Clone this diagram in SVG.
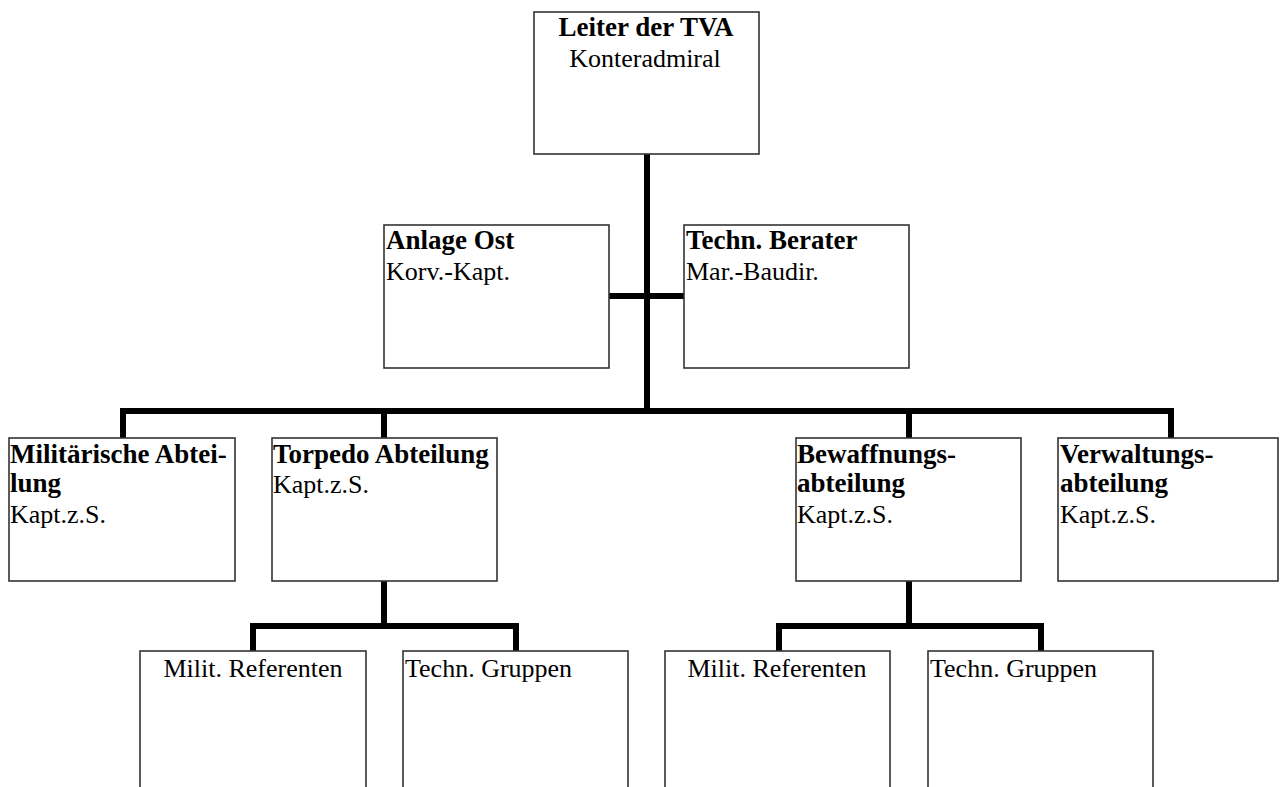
<svg xmlns="http://www.w3.org/2000/svg" width="1280" height="787" viewBox="0 0 1280 787">
<style>
.box{fill:#fff;stroke:#333;stroke-width:1.6}
.t{font-family:"Liberation Serif","Times New Roman",serif;font-size:26px;fill:#000}
.b{font-weight:bold;font-size:27px}
.c{text-anchor:middle}
.ln{fill:none;stroke:#000;stroke-width:6;stroke-linejoin:miter;stroke-linecap:butt}
</style>
<rect width="1280" height="787" fill="#fff"/>
<g id="connectors">
<path class="ln" d="M647,154 V411"/>
<path class="ln" d="M609,296 H684"/>
<path class="ln" d="M123,438 V411 H1171 V438"/>
<path class="ln" d="M384,411 V438"/>
<path class="ln" d="M909,411 V438"/>
<path class="ln" d="M384,581 V626"/>
<path class="ln" d="M253,651 V626 H516 V651"/>
<path class="ln" d="M909,581 V626"/>
<path class="ln" d="M779,651 V626 H1041 V651"/>
</g>
<g id="leiter">
<rect class="box" x="534" y="12" width="225" height="142"/>
<text class="t b c" x="646" y="36">Leiter der TVA</text>
<text class="t c" x="645" y="67">Konteradmiral</text>
</g>
<g id="anlage-ost">
<rect class="box" x="384" y="225" width="225" height="143"/>
<text class="t b" x="386" y="249">Anlage Ost</text>
<text class="t" x="386" y="280">Korv.-Kapt.</text>
</g>
<g id="techn-berater">
<rect class="box" x="684" y="225" width="225" height="143"/>
<text class="t b" x="686" y="249">Techn. Berater</text>
<text class="t" x="686" y="280">Mar.-Baudir.</text>
</g>
<g id="militaerische-abteilung">
<rect class="box" x="9" y="438" width="226" height="143"/>
<text class="t b" x="10" y="463">Militärische Abtei-</text>
<text class="t b" x="10" y="492">lung</text>
<text class="t" x="10" y="523">Kapt.z.S.</text>
</g>
<g id="torpedo-abteilung">
<rect class="box" x="272" y="438" width="225" height="143"/>
<text class="t b" x="273" y="463">Torpedo Abteilung</text>
<text class="t" x="273" y="493">Kapt.z.S.</text>
</g>
<g id="bewaffnungsabteilung">
<rect class="box" x="796" y="438" width="225" height="143"/>
<text class="t b" x="797" y="463">Bewaffnungs-</text>
<text class="t b" x="797" y="492">abteilung</text>
<text class="t" x="797" y="523">Kapt.z.S.</text>
</g>
<g id="verwaltungsabteilung">
<rect class="box" x="1058" y="438" width="220" height="143"/>
<text class="t b" x="1060" y="463">Verwaltungs-</text>
<text class="t b" x="1060" y="492">abteilung</text>
<text class="t" x="1060" y="523">Kapt.z.S.</text>
</g>
<g id="torpedo-milit-referenten">
<rect class="box" x="140" y="651" width="226" height="160"/>
<text class="t c" x="253" y="677">Milit. Referenten</text>
</g>
<g id="torpedo-techn-gruppen">
<rect class="box" x="403" y="651" width="225" height="160"/>
<text class="t" x="405" y="677">Techn. Gruppen</text>
</g>
<g id="bewaffnung-milit-referenten">
<rect class="box" x="665" y="651" width="225" height="160"/>
<text class="t c" x="777" y="677">Milit. Referenten</text>
</g>
<g id="bewaffnung-techn-gruppen">
<rect class="box" x="928" y="651" width="225" height="160"/>
<text class="t" x="930" y="677">Techn. Gruppen</text>
</g>
</svg>
